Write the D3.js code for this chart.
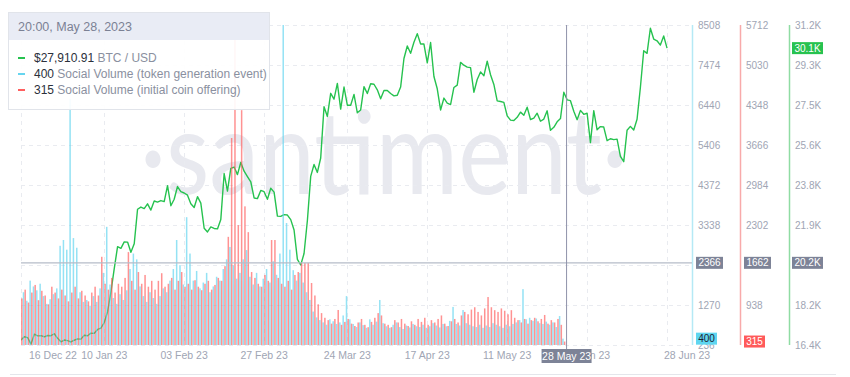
<!DOCTYPE html>
<html>
<head>
<meta charset="utf-8">
<script src="https://cdn.jsdelivr.net/npm/d3@7"></script>
<style>
  body { margin: 0; background: #fff; }
  svg { font-family: Arial, "Liberation Sans", sans-serif; }
</style>
</head>
<body>
<svg id="drawing_region"></svg>
<script>
// daily BTC close, 16 Dec 2022 .. 28 Jun 2023
const btcStart = new Date(2022, 11, 16);
const btcPrice = [
  16630, 16780, 16740, 16440, 16900, 16820, 16830, 16780, 16840, 16830, 16920, 16710, 16550, 16630, 16600, 16540,
  16620, 16680, 16670, 16850, 16830, 16950, 16940, 17120, 17180, 17440, 17940, 18850, 19930, 20950, 20870, 21170,
  21160, 20690, 21080, 22680, 22780, 22710, 22930, 22640, 23060, 23010, 23080, 23030, 23770, 22840, 23140,
  23730, 23490, 23430, 23330, 22930, 22760, 23260, 22960, 21800, 21630, 21860, 21790, 21770, 22200, 24330, 23520,
  24570, 24630, 24280, 24840, 24440, 24190, 23950, 23200, 23170, 23550, 23490, 23140,
  23650, 23470, 22360, 22350, 22430, 22410, 22200, 21720, 20360, 20100, 20630, 22160, 24200, 24750, 24380, 25050,
  27420, 26970, 28040, 27770, 28500, 27310, 28330, 27490, 27490, 27990, 27140, 27270, 28350, 28030, 28480,
  28460, 28200, 27790, 28170, 28170, 28030, 27920, 27950, 28330, 29650, 30230, 29890, 30400, 30800, 30320, 30320,
  29450, 30390, 28820, 28250, 27270, 27820, 27590, 27520, 28310, 28420, 29470, 29340, 29250, 29230,
  28090, 28680, 29030, 28850, 29530, 28900, 28450, 27690, 27660, 27620, 27000, 26800, 26780, 26930, 27170, 27030,
  27400, 26830, 26890, 27120, 26750, 26850, 27230, 26330, 26470, 26720, 26870, 28090, 27740, 27700, 27210,
  26820, 27250, 27070, 27120, 25760, 27240, 26350, 26500, 26480, 25850, 25940, 25900, 25920, 25120, 24880, 26330,
  26510, 26340, 26840, 28310, 30010, 29890, 31050, 30550, 30470, 30270, 30690, 30130
];

// daily social volume, 16 Dec 2022 .. 28 May 2023
const volStart = new Date(2022, 11, 16);
const tokenGenVolume = [
  1450, 1600, 1380, 1900, 1750, 1650, 1820, 1500, 1300, 1420,
  1550, 1700, 2800, 2950, 2700, 6600, 3000, 2750, 1600, 1350,
  1400, 1250, 1500, 1350, 1700, 2100, 3290, 1800, 1450, 1300,
  1550, 1400, 1650, 2200, 2600, 2450, 1750, 1500, 1350, 1600,
  1450, 1300, 1500, 1700, 1600, 1900, 2200, 2950, 2300, 1800,
  3540, 2600, 1900, 2150, 1700, 1850, 2100, 1600, 1750, 2000,
  1900, 2200, 2450, 2770, 2300, 1950, 2100, 2450, 2690, 2000,
  1800, 2100, 1750, 1950, 2200, 1850, 2400, 2050, 2600, 9000,
  3390, 2700, 2170, 1900, 2100, 1850, 1600, 1400, 1100, 950,
  880, 820, 760, 900, 850, 780, 820, 1000, 1500, 900,
  780, 700, 820, 750, 680, 900, 760, 840, 1400, 800,
  720, 680, 760, 820, 700, 650, 740, 690, 780, 720,
  700, 760, 680, 720, 800, 740, 690, 780, 720, 860,
  1220, 780, 740, 1140, 800, 760, 720, 700, 760, 680,
  740, 700, 800, 760, 720, 680, 760, 720, 780, 820,
  880, 1680, 900, 940, 860, 920, 800, 780, 840, 760,
  820, 700, 985, 400
];
const icoVolume = [
  1050, 1200, 980, 1150, 1280, 1020, 1180, 1100, 950, 1250,
  1150, 1050, 1200, 1100, 1000, 1150, 1250, 1050, 1180, 1100,
  1000, 1150, 1250, 1100, 1760, 1300, 1200, 1400, 1150, 1300,
  1250, 1400, 1840, 1350, 1200, 1500, 1300, 1450, 1250, 1350,
  1200, 1350, 1480, 1250, 1300, 1400, 1200, 1350, 1500, 1250,
  1300, 1200, 1360, 1250, 1190, 1300, 1350, 1200, 1280, 1400,
  1350, 1600, 2100, 3785, 5500, 2300, 4260, 2620, 2180, 1500,
  1400, 1300, 1250, 1450, 1350, 2046, 2046, 1400, 1300, 1250,
  1350, 1200, 1450, 1500, 1654, 1654, 1654, 1313, 1100, 950,
  800, 720, 680, 620, 700, 853, 600, 650, 700, 620,
  580, 640, 700, 600, 560, 650, 720, 800, 760, 620,
  600, 560, 680, 640, 700, 620, 580, 660, 600, 700,
  650, 720, 600, 680, 640, 700, 760, 620, 580, 660,
  700, 640, 760, 820, 780, 860, 900, 820, 760, 880,
  1074, 900, 850, 820, 880, 840, 780, 850, 720, 680,
  640, 700, 620, 680, 720, 660, 700, 768, 620, 680,
  640, 700, 600, 315
];

const xTickDates = ['2022-12-16', '2023-01-10', '2023-02-03', '2023-02-27', '2023-03-24',
                    '2023-04-17', '2023-05-11', '2023-06-04', '2023-06-28'];
const tokenTicks = [236, 1270, 2304, 3338, 4372, 5406, 6440, 7474, 8508];
const icoTicks = [256, 938, 1620, 2302, 2984, 3666, 4348, 5030, 5712];
const btcTicks = [16400, 18250, 20100, 21950, 23800, 25650, 27500, 29350, 31200];

// hovered point (crosshair)
const hoverTime = new Date(2023, 4, 28, 20);
const hoverBtcLevel = 20200;
const hoverLabels = { token: '2366', ico: '1662', btc: '20.2K' };
const tooltipTitle = '20:00, May 28, 2023';
const tooltipRows = [
  { key: 'btc', value: '$27,910.91', label: 'BTC / USD' },
  { key: 'token', value: '400', label: 'Social Volume (token generation event)' },
  { key: 'ico', value: '315', label: 'Social Volume (initial coin offering)' }
];

const colors = {
  btc: '#26c24f', token: '#66d5ef', ico: '#ff5f5f',
  btcAxis: '#8fdca3', tokenAxis: '#b5e9f5', icoAxis: '#f8aaaa',
  grid: '#e9ebf0', text: '#a0a5b4', tag: '#7d8397'
};

const dayMs = 24 * 3600 * 1000;
const btcData = btcPrice.map((v, i) => ({ date: new Date(btcStart.getTime() + i * dayMs), value: v }));
const volData = tokenGenVolume.map((v, i) => ({
  date: new Date(volStart.getTime() + i * dayMs), token: v, ico: icoVolume[i]
}));

class SanChart {
  constructor(config) {
    this.config = config;
    this.init();
  }

  init() {
    let self = this;
    const c = self.config;
    self.svg = d3.select(c.parent).attr('width', c.width).attr('height', c.height);

    self.xscale = d3.scaleTime()
      .domain([btcStart, new Date(2023, 6, 5, 12)])
      .range([c.left, c.right]);
    self.ytoken = d3.scaleLinear().domain([236, 8508]).range([c.bottom, c.top]);
    self.yico = d3.scaleLinear().domain([256, 5712]).range([c.bottom, c.top]);
    self.ybtc = d3.scaleLinear().domain([16400, 31200]).range([c.bottom, c.top]);

    self.svg.append('defs').append('clipPath').attr('id', 'plot-clip')
      .append('rect')
      .attr('x', c.left).attr('y', c.top)
      .attr('width', c.right - c.left).attr('height', c.bottom - c.top);
  }

  render() {
    let self = this;
    const c = self.config;
    const svg = self.svg;

    // watermark
    svg.append('text')
      .attr('transform', 'translate(140, 194) scale(1, 1.22)')
      .attr('textLength', 488).attr('lengthAdjust', 'spacingAndGlyphs')
      .style('font-family', 'Lato, "Open Sans", sans-serif')
      .style('font-size', '96px')
      .attr('fill', '#e8e9ef')
      .text('·santiment·');

    // grid
    const grid = svg.append('g');
    grid.selectAll('.hgrid').data(tokenTicks).enter().append('line')
      .attr('x1', c.left).attr('x2', c.right)
      .attr('y1', d => Math.round(self.ytoken(d)) + 0.5)
      .attr('y2', d => Math.round(self.ytoken(d)) + 0.5)
      .attr('stroke', colors.grid).attr('stroke-dasharray', '4,4');
    grid.selectAll('.vgrid').data(xTickDates).enter().append('line')
      .attr('x1', d => Math.round(self.xscale(new Date(d + 'T00:00'))) + 0.5)
      .attr('x2', d => Math.round(self.xscale(new Date(d + 'T00:00'))) + 0.5)
      .attr('y1', c.top).attr('y2', c.bottom)
      .attr('stroke', colors.grid).attr('stroke-dasharray', '4,4');

    const plot = svg.append('g').attr('clip-path', 'url(#plot-clip)');

    // btc line (drawn under the bars)
    const line = d3.line()
      .x(d => self.xscale(d.date))
      .y(d => self.ybtc(d.value));
    plot.append('path')
      .datum(btcData)
      .attr('d', line)
      .attr('fill', 'none')
      .attr('stroke', colors.btc)
      .attr('stroke-width', 1.4)
      .attr('stroke-linejoin', 'round');

    // volume bars
    const bw = 1.5;
    plot.selectAll('.tok').data(volData).enter().append('rect')
      .attr('x', d => self.xscale(d.date) - 1.6)
      .attr('y', d => self.ytoken(d.token))
      .attr('width', bw)
      .attr('height', d => self.ytoken(0) - self.ytoken(d.token))
      .attr('fill', colors.token).attr('fill-opacity', 0.7);
    plot.selectAll('.ico').data(volData).enter().append('rect')
      .attr('x', d => self.xscale(d.date) + 0.1)
      .attr('y', d => self.yico(d.ico))
      .attr('width', bw)
      .attr('height', d => self.yico(0) - self.yico(d.ico))
      .attr('fill', colors.ico).attr('fill-opacity', 0.68);

    // x labels
    const last = xTickDates.length - 1;
    svg.append('g').selectAll('text').data(xTickDates).enter().append('text')
      .attr('x', (d, i) => self.xscale(new Date(d + 'T00:00')) + (i === 0 ? 8 : i === last ? 20 : 0))
      .attr('y', 359)
      .attr('text-anchor', (d, i) => i === 0 ? 'start' : 'middle')
      .attr('fill', colors.text)
      .style('font-size', '10.5px')
      .text(d => d3.timeFormat('%d %b %y')(new Date(d + 'T00:00')));

    // right axes (ticks under the crosshair tags are hidden)
    const hy = self.ybtc(hoverBtcLevel);
    const axes = [
      { scale: self.ytoken, ticks: tokenTicks, x: 692, color: colors.tokenAxis, fmt: d => d },
      { scale: self.yico, ticks: icoTicks, x: 740, color: colors.icoAxis, fmt: d => d },
      { scale: self.ybtc, ticks: btcTicks, x: 789, color: colors.btcAxis, fmt: d => (Math.floor(d / 100) / 10).toFixed(1) + 'K' }
    ];
    axes.forEach((a, k) => {
      const g = svg.append('g');
      g.append('line')
        .attr('x1', a.x + 0.5).attr('x2', a.x + 0.5)
        .attr('y1', c.top).attr('y2', c.bottom)
        .attr('stroke', a.color).attr('stroke-width', 1.5);
      g.selectAll('text')
        .data(a.ticks.filter((d, i) => Math.abs(a.scale(d) - hy) > 8 && !(k === 1 && i === 0)))
        .enter().append('text')
        .attr('x', a.x + 6)
        .attr('y', d => a.scale(d) + 3.5)
        .attr('fill', colors.text)
        .style('font-size', '10px')
        .text(a.fmt);
    });

    // crosshair
    const hx = self.xscale(hoverTime);
    svg.append('line')
      .attr('x1', c.left).attr('x2', c.right)
      .attr('y1', hy).attr('y2', hy)
      .attr('stroke', '#b6bcc8').attr('stroke-width', 1.2);
    svg.append('line')
      .attr('x1', hx).attr('x2', hx)
      .attr('y1', c.top).attr('y2', c.bottom + 4)
      .attr('stroke', '#8f93aa').attr('stroke-width', 1);

    const tag = (x, y, w, text, bg, fg) => {
      svg.append('rect').attr('x', x).attr('y', y - 6).attr('width', w).attr('height', 12)
        .attr('fill', bg);
      svg.append('text').attr('x', x + w / 2).attr('y', y + 3.5)
        .attr('text-anchor', 'middle').attr('fill', fg)
        .style('font-size', '10px').text(text);
    };
    tag(696, hy, 27, hoverLabels.token, colors.tag, '#fff');
    tag(744, hy, 27, hoverLabels.ico, colors.tag, '#fff');
    tag(792, hy, 31, hoverLabels.btc, colors.tag, '#fff');

    const lastVol = volData[volData.length - 1];
    const lastBtc = btcData[btcData.length - 1];
    tag(696, self.ytoken(lastVol.token), 21, lastVol.token, '#5fd6f0', '#1d2330');
    tag(744, self.yico(lastVol.ico), 21, lastVol.ico, '#ff5a5a', '#fff');
    tag(792, self.ybtc(lastBtc.value), 31, (Math.floor(lastBtc.value / 100) / 10).toFixed(1) + 'K', '#27c24f', '#fff');

    // date tag under crosshair
    svg.append('rect').attr('x', hx - 25).attr('y', 349).attr('width', 50).attr('height', 14)
      .attr('fill', colors.tag);
    svg.append('text').attr('x', hx).attr('y', 359.5)
      .attr('text-anchor', 'middle').attr('fill', '#fff')
      .style('font-size', '10.5px')
      .text(d3.timeFormat('%d %b %y')(hoverTime));

    // bottom separator
    svg.append('line').attr('x1', 10).attr('x2', 836).attr('y1', 374.5).attr('y2', 374.5)
      .attr('stroke', '#e4e6eb');

    // tooltip
    const tip = svg.append('g').attr('transform', 'translate(8, 12)');
    tip.append('rect').attr('x', 0.5).attr('y', 0.5).attr('width', 261).attr('height', 97)
      .attr('fill', '#fff').attr('fill-opacity', 0.92)
      .attr('stroke', '#e1e4ea');
    tip.append('rect').attr('x', 1).attr('y', 1).attr('width', 260).attr('height', 27)
      .attr('fill', '#e9ecf5');
    tip.append('text').attr('x', 10).attr('y', 18.5)
      .attr('fill', '#7b8194').style('font-size', '12.5px')
      .text(tooltipTitle);
    const rows = tip.selectAll('.row').data(tooltipRows).enter().append('g')
      .attr('transform', (d, i) => `translate(0, ${46 + i * 16})`);
    rows.append('line').attr('x1', 10).attr('x2', 17).attr('y1', 0).attr('y2', 0)
      .attr('stroke', d => colors[d.key]).attr('stroke-width', 2);
    const t = rows.append('text').attr('x', 26).attr('y', 4.2).style('font-size', '12px');
    t.append('tspan').attr('fill', '#2b303b').text(d => d.value);
    t.append('tspan').attr('fill', '#8a90a0').text(d => ' ' + d.label);
  }
}

const config = {
  parent: '#drawing_region',
  width: 850,
  height: 377,
  left: 21, right: 692, top: 25, bottom: 345
};

const chart = new SanChart(config);
chart.render();
</script>
</body>
</html>
